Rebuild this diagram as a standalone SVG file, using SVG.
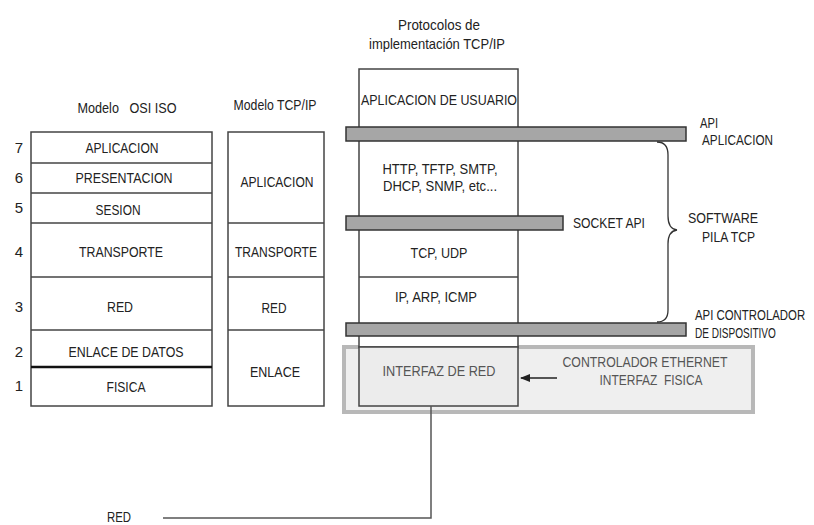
<svg xmlns="http://www.w3.org/2000/svg" width="814" height="525" viewBox="0 0 814 525">
<style>
.t{font-family:"Liberation Sans",Arial,sans-serif;font-size:15px;fill:#222;text-anchor:middle;white-space:pre}
.l{text-anchor:start}
.g{fill:#555}
.box{fill:#fff;stroke:#444;stroke-width:1.5}
.ln{stroke:#444;stroke-width:1.5;fill:none}
.bar{fill:#a6a6a6;stroke:#333;stroke-width:1.5}
</style>
<defs>
<marker id="ah" markerWidth="10" markerHeight="8" refX="9" refY="4" orient="auto" markerUnits="userSpaceOnUse">
<path d="M0,0 L10,4 L0,8 Z" fill="#222"/>
</marker>
</defs>
<rect width="814" height="525" fill="#fff"/>

<g id="osi">
<text class="t" x="127" y="113" textLength="99" lengthAdjust="spacingAndGlyphs">Modelo   OSI ISO</text>
<rect class="box" x="31" y="132" width="181" height="274"/>
<line class="ln" x1="31" y1="163" x2="212" y2="163"/>
<line class="ln" x1="31" y1="193" x2="212" y2="193"/>
<line class="ln" x1="31" y1="223" x2="212" y2="223"/>
<line class="ln" x1="31" y1="277" x2="212" y2="277"/>
<line class="ln" x1="31" y1="330" x2="212" y2="330"/>
<line x1="31" y1="367" x2="212" y2="367" stroke="#111" stroke-width="2.5"/>
<text class="t" x="122" y="153" textLength="73" lengthAdjust="spacingAndGlyphs">APLICACION</text>
<text class="t" x="124" y="183" textLength="97" lengthAdjust="spacingAndGlyphs">PRESENTACION</text>
<text class="t" x="118" y="215" textLength="45" lengthAdjust="spacingAndGlyphs">SESION</text>
<text class="t" x="121" y="257" textLength="84" lengthAdjust="spacingAndGlyphs">TRANSPORTE</text>
<text class="t" x="120" y="312" textLength="26" lengthAdjust="spacingAndGlyphs">RED</text>
<text class="t" x="126" y="357" textLength="115" lengthAdjust="spacingAndGlyphs">ENLACE DE DATOS</text>
<text class="t" x="126" y="392" textLength="39" lengthAdjust="spacingAndGlyphs">FISICA</text>
<text class="t" x="19" y="153">7</text>
<text class="t" x="19" y="183">6</text>
<text class="t" x="19" y="213">5</text>
<text class="t" x="19" y="257">4</text>
<text class="t" x="19" y="312">3</text>
<text class="t" x="19" y="357">2</text>
<text class="t" x="19" y="391">1</text>
</g>

<g id="tcpip">
<text class="t" x="275" y="110" textLength="83" lengthAdjust="spacingAndGlyphs">Modelo TCP/IP</text>
<rect class="box" x="228" y="132" width="96" height="274"/>
<line class="ln" x1="228" y1="223" x2="324" y2="223"/>
<line class="ln" x1="228" y1="277" x2="324" y2="277"/>
<line class="ln" x1="228" y1="330" x2="324" y2="330"/>
<text class="t" x="277" y="187" textLength="73" lengthAdjust="spacingAndGlyphs">APLICACION</text>
<text class="t" x="276" y="257" textLength="82" lengthAdjust="spacingAndGlyphs">TRANSPORTE</text>
<text class="t" x="274" y="313" textLength="25" lengthAdjust="spacingAndGlyphs">RED</text>
<text class="t" x="275" y="377" textLength="50" lengthAdjust="spacingAndGlyphs">ENLACE</text>
</g>

<g id="hardware">
<rect x="344" y="347" width="409" height="65" fill="#efefef" stroke="#b8b8b8" stroke-width="4"/>
<text class="t g" x="645" y="367" textLength="165" lengthAdjust="spacingAndGlyphs">CONTROLADOR ETHERNET</text>
<text class="t g" x="651" y="385" textLength="103" lengthAdjust="spacingAndGlyphs">INTERFAZ  FISICA</text>
</g>

<g id="stack">
<text class="t" x="439" y="30" textLength="82" lengthAdjust="spacingAndGlyphs">Protocolos de</text>
<text class="t" x="437" y="49" textLength="136" lengthAdjust="spacingAndGlyphs">implementación TCP/IP</text>
<rect x="359" y="69" width="159" height="278" fill="#fff" stroke="#444" stroke-width="1.5"/>
<rect x="359" y="347" width="159" height="59" fill="#ececec" stroke="#444" stroke-width="1.5"/>
<line class="ln" x1="359" y1="277" x2="518" y2="277"/>
<text class="t" x="439" y="105" textLength="156" lengthAdjust="spacingAndGlyphs">APLICACION DE USUARIO</text>
<text class="t" x="440" y="174" textLength="115" lengthAdjust="spacingAndGlyphs">HTTP, TFTP, SMTP,</text>
<text class="t" x="440" y="191" textLength="114" lengthAdjust="spacingAndGlyphs">DHCP, SNMP, etc...</text>
<text class="t" x="439" y="258" textLength="57" lengthAdjust="spacingAndGlyphs">TCP, UDP</text>
<text class="t" x="436" y="302" textLength="82" lengthAdjust="spacingAndGlyphs">IP, ARP, ICMP</text>
<text class="t g" x="439" y="376" textLength="113" lengthAdjust="spacingAndGlyphs">INTERFAZ DE RED</text>
</g>

<g id="api-aplicacion">
<rect class="bar" x="346" y="127" width="340" height="14"/>
<text class="t l" x="700" y="128" textLength="18" lengthAdjust="spacingAndGlyphs">API</text>
<text class="t l" x="702" y="145" textLength="71" lengthAdjust="spacingAndGlyphs">APLICACION</text>
</g>

<g id="socket-api">
<rect class="bar" x="346" y="216" width="217" height="14"/>
<text class="t l" x="573" y="228" textLength="72" lengthAdjust="spacingAndGlyphs">SOCKET API</text>
</g>

<g id="api-controlador">
<rect class="bar" x="346" y="323" width="340" height="13"/>
<text class="t l" transform="translate(695,320) scale(0.76,1)" x="0" y="0">API CONTROLADOR</text>
<text class="t l" transform="translate(695,338) scale(0.67,1)" x="0" y="0">DE DISPOSITIVO</text>
</g>

<g id="software">
<text class="t l" x="688" y="223" textLength="70" lengthAdjust="spacingAndGlyphs">SOFTWARE</text>
<text class="t l" x="702" y="242" textLength="53" lengthAdjust="spacingAndGlyphs">PILA TCP</text>
</g>

<g id="red">
<text class="t" x="119" y="522" textLength="24" lengthAdjust="spacingAndGlyphs">RED</text>
</g>

<g id="connectors">
<path d="M657,142 Q668,142 668,155 L668,216 Q668,229 677,230 Q668,231 668,244 L668,310 Q668,322 657,322" fill="none" stroke="#333" stroke-width="1.3"/>
<line x1="557" y1="378" x2="521" y2="378" stroke="#222" stroke-width="1.5" marker-end="url(#ah)"/>
<path d="M431,406 L431,518 L163,518" fill="none" stroke="#555" stroke-width="1.5"/>
</g>
</svg>
